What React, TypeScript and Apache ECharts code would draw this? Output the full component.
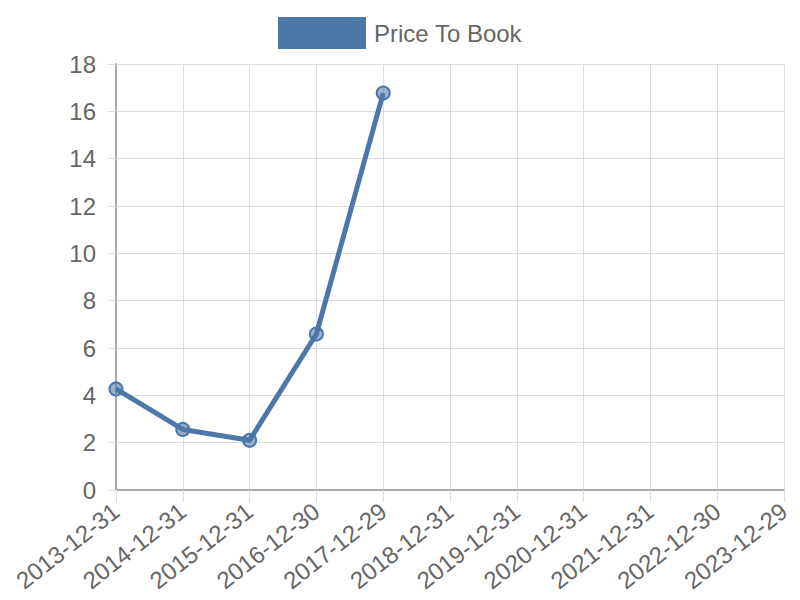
import React, { useEffect, useRef } from "react";
import * as echarts from "echarts";

const categories = [
  "2013-12-31", "2014-12-31", "2015-12-31", "2016-12-30", "2017-12-29",
  "2018-12-31", "2019-12-31", "2020-12-31", "2021-12-31", "2022-12-30", "2023-12-29",
];
const priceToBook: (number | null)[] = [4.27, 2.56, 2.1, 6.59, 16.77, null, null, null, null, null, null];
const seriesName = "Price To Book";

export default function App() {
  const ref = useRef<HTMLDivElement>(null);
  useEffect(() => {
    if (!ref.current) return;
    const chart = echarts.init(ref.current, undefined, { renderer: "svg" });
    const color = "#4b77a9";
    chart.setOption({
      animation: false,
      textStyle: { fontFamily: "Liberation Sans, Arial, sans-serif" },
      legend: {
        top: 17,
        left: "center",
        padding: 0,
        itemWidth: 86,
        itemHeight: 30,
        icon: "rect",
        textStyle: { fontSize: 24, color: "#666", padding: [0, 0, 0, 4] },
        data: [{ name: seriesName, itemStyle: { color } }],
      },
      grid: { left: 116, right: 16, top: 64, bottom: 110, containLabel: false },
      xAxis: {
        type: "category",
        data: categories,
        boundaryGap: false,
        axisLine: { lineStyle: { color: "#aaa", width: 2 } },
        axisTick: { show: true, length: 12, lineStyle: { color: "#ddd" }, alignWithLabel: true },
        axisLabel: { rotate: 38, fontSize: 24, color: "#666", margin: 18, interval: 0 },
        splitLine: { show: true, lineStyle: { color: "#ddd", width: 1 } },
      },
      yAxis: {
        type: "value",
        min: 0,
        max: 18,
        interval: 2,
        axisLine: { show: true, lineStyle: { color: "#aaa", width: 2 } },
        axisTick: { show: true, length: 8, lineStyle: { color: "#ddd" } },
        axisLabel: { fontSize: 24, color: "#666", margin: 20 },
        splitLine: { show: true, lineStyle: { color: "#ddd", width: 1 } },
      },
      series: [
        {
          name: seriesName,
          type: "line",
          data: priceToBook,
          connectNulls: false,
          symbol: "circle",
          symbolSize: 13,
          lineStyle: { color, width: 5 },
          itemStyle: { color: "rgba(75,119,169,0.55)", borderColor: color, borderWidth: 2 },
        },
      ],
    });
    return () => chart.dispose();
  }, []);
  return (
    <div
      ref={ref}
      style={{ position: "absolute", left: 0, top: 0, width: 800, height: 600 }}
    />
  );
}
